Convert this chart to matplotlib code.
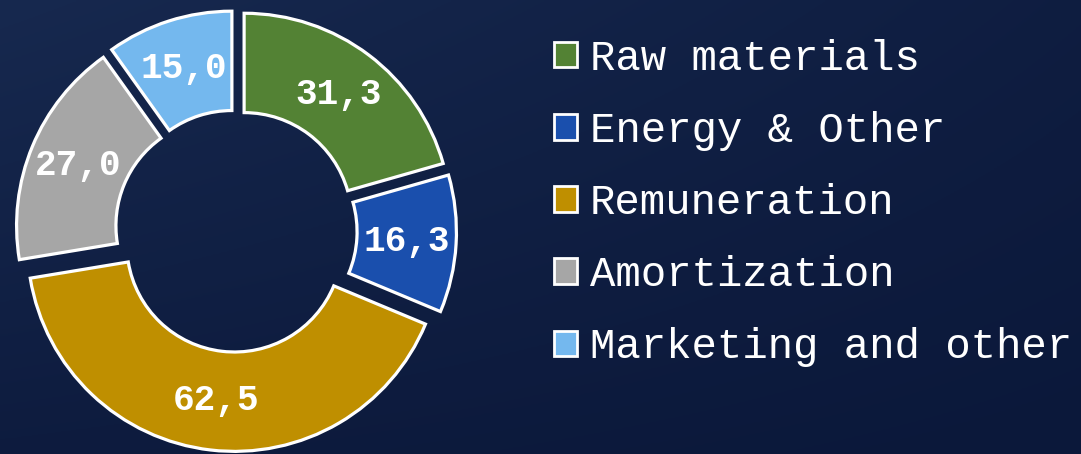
import matplotlib
matplotlib.use("Agg")
import matplotlib.pyplot as plt
import matplotlib.patches as mpatches
import numpy as np

# 데이터
categories = ["Raw materials", "Energy & Other", "Remuneration", "Amortization", "Marketing and other"]
values = [31.3, 16.3, 62.5, 27.0, 15.0]
value_labels = ["31,3", "16,3", "62,5", "27,0", "15,0"]
colors = ["#538234", "#1a4fad", "#bf8f00", "#a6a6a6", "#74b8ee"]

W, H = 1081, 454
fig = plt.figure(figsize=(W / 100, H / 100), dpi=100)

# 배경 그라데이션
bg = fig.add_axes([0, 0, 1, 1])
yy, xx = np.mgrid[0:1:200j, 0:1:400j]
grad = 0.55 * (1 - yy) * (1 - 0.6 * xx) + 0.15 * (1 - xx)
top = np.array([0x1c, 0x30, 0x58]) / 255
base = np.array([0x0b, 0x18, 0x3a]) / 255
img = base + (top - base) * np.clip(grad, 0, 1)[..., None]
bg.imshow(img, aspect="auto", extent=[0, 1, 0, 1], origin="upper")
bg.axis("off")

# 도넛 차트
R = 207
cx, cy = 236, 231
side = 2.2 * R
ax = fig.add_axes([(cx - side / 2) / W, (H - cy - side / 2) / H, side / W, side / H])
ax.set_facecolor("none")
wedges, texts = ax.pie(values, startangle=90, counterclock=False, colors=colors,
                       explode=[0.065] * len(values), radius=1.0,
                       wedgeprops=dict(width=0.48, edgecolor="white", linewidth=2.3),
                       labels=value_labels, labeldistance=0.76,
                       textprops=dict(color="white", fontsize=26, fontweight="bold",
                                      family="Liberation Mono", ha="center", va="center"))
ax.set_xlim(-1.1, 1.1)
ax.set_ylim(-1.1, 1.1)
ax.set_aspect("equal")
ax.axis("off")

# 범례
handles = [mpatches.Patch(facecolor=c, edgecolor="white", linewidth=2.0) for c in colors]
leg = fig.legend(handles, categories, loc="center left",
                 bbox_to_anchor=(554 / W, 1 - 203 / H), frameon=False,
                 prop=dict(family="Liberation Mono", size=30.5),
                 labelcolor="white", handlelength=0.55, handleheight=0.55,
                 handletextpad=0.3, labelspacing=0.76, borderpad=0, borderaxespad=0)

fig.savefig("out.png", dpi=100)
